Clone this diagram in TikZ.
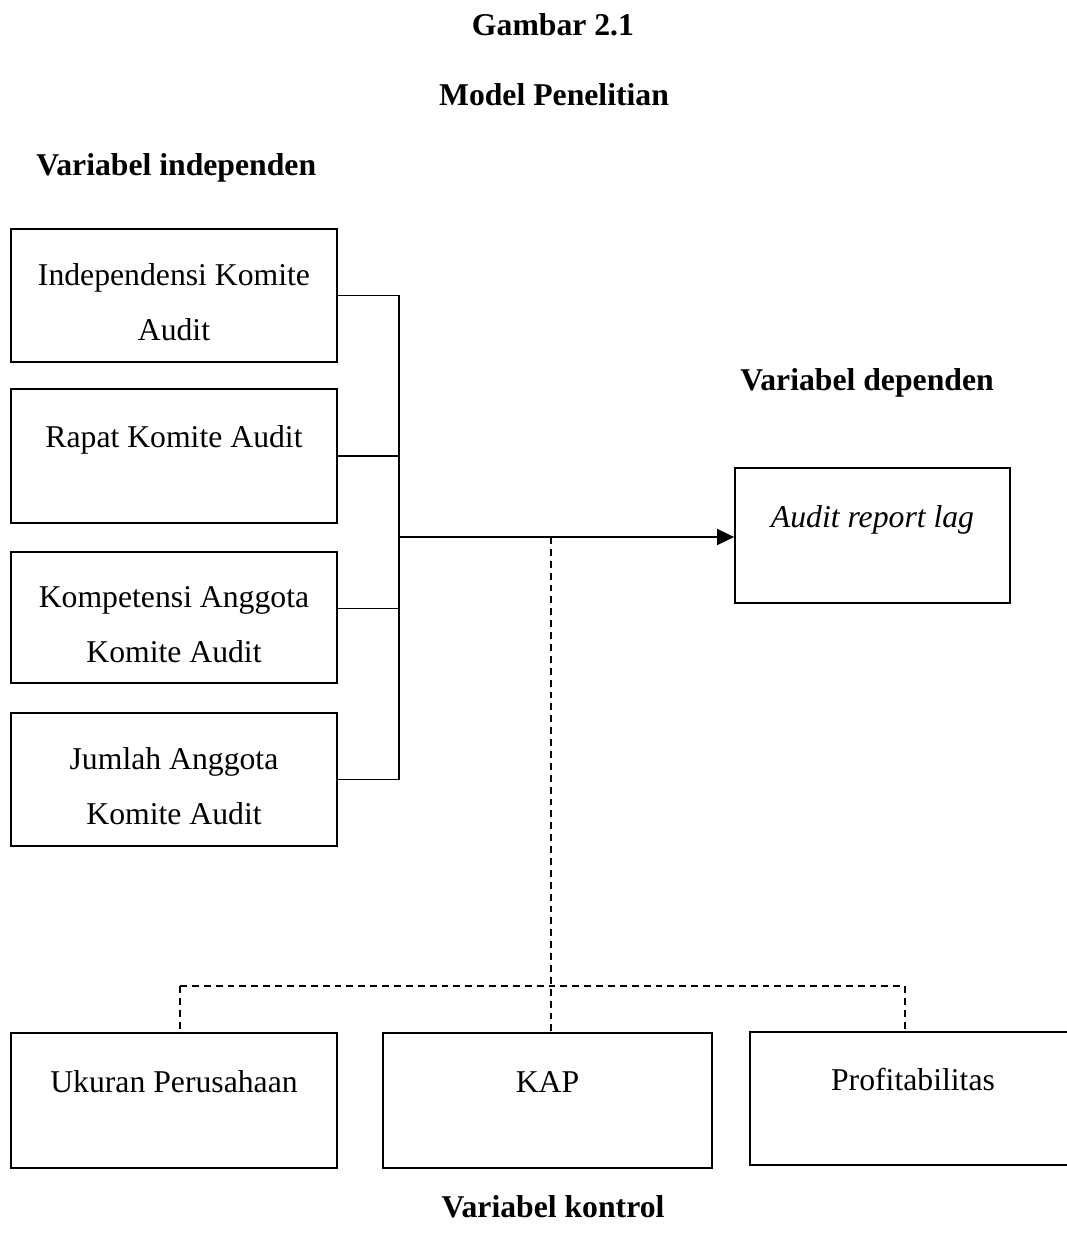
\documentclass[tikz,border=0pt]{standalone}
\usepackage{fontspec}
\setmainfont{Liberation Serif}
\usetikzlibrary{arrows.meta}

\tikzset{
  box/.style={draw, line width=0.6pt, inner sep=0pt, minimum width=123.4pt, minimum height=50.3pt, align=center},
  onerow/.style={text height=8.5pt, text depth=14.6pt},
  tworow/.style={text height=34pt, text depth=0pt},
  head/.style={font=\fontsize{12}{20.8}\selectfont\bfseries, anchor=base},
  dashline/.style={dash pattern=on 2.6pt off 1.9pt, line width=0.6pt},
  link/.style={line width=0.7pt}
}

\begin{document}
\begin{tikzpicture}[x=0.3785pt, y=-0.3785pt, every node/.style={font=\fontsize{12}{20.8}\selectfont}]
	\useasboundingbox (0,0) rectangle (1067,1234);
	\clip (0,0) rectangle (1067,1234);

	% judul
	\node[head] (judul) at (553,35) {Gambar 2.1};
	\node[head] (model) at (554,105) {Model Penelitian};
	\node[head, anchor=base west] (lblindep) at (27,175) {Variabel independen};
	\node[head, anchor=base west] (lbldep) at (731,390) {Variabel dependen};
	\node[head] (lblkontrol) at (553,1217) {Variabel kontrol};

	% variabel independen
	\node[box, tworow] (indep) at (174,295.5) {Independensi Komite\\Audit};
	\node[box, onerow, minimum height=50.7pt] (rapat) at (174,456) {Rapat Komite Audit};
	\node[box, tworow, minimum height=49.6pt] (kompetensi) at (174,617.5) {Kompetensi Anggota\\Komite Audit};
	\node[box, tworow] (jumlah) at (174,779.5) {Jumlah Anggota\\Komite Audit};

	% variabel dependen
	\node[box, onerow, minimum width=104.1pt, minimum height=51.1pt] (arl) at (872.5,535.5) {\textit{Audit report lag}};

	% variabel kontrol
	\node[box, onerow, minimum height=51.1pt] (ukuran) at (174,1100.5) {Ukuran Perusahaan};
	\node[box, onerow, minimum width=124.5pt, minimum height=51.1pt] (kap) at (547.5,1100.5) {KAP};
	\node[box, onerow] (profit) at (913,1098.5) {Profitabilitas};

	\coordinate (hub) at (399,537);
	\coordinate (ctrl) at (551,537);
	\coordinate (barL) at (180,986);
	\coordinate (barR) at (905,986);

	\draw[link] (indep.east) -| (hub);
	\draw[link] (rapat.east) -| (hub);
	\draw[link] ([yshift=3.4pt]kompetensi.east) -| (hub);
	\draw[link] (jumlah.east) -| (hub);
	\draw[line width=0.9pt, -{Triangle[length=6.5pt,width=6pt]}] (hub) -- (hub -| arl.west);

	\draw[dashline] (ctrl) -- (ctrl |- kap.north);
	\draw[dashline] (barL) -- (barR);
	\draw[dashline] (barL) -- (barL |- ukuran.north);
	\draw[dashline] (barR) -- (barR |- profit.north);
\end{tikzpicture}
\end{document}
